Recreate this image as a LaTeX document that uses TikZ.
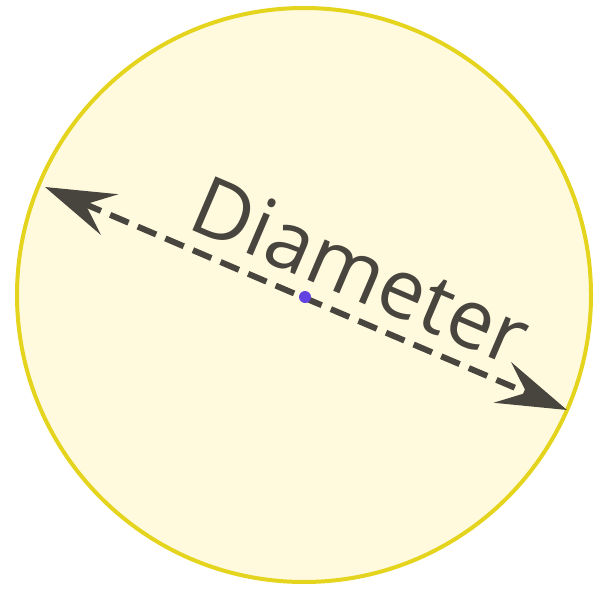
\documentclass[tikz,border=0pt]{standalone}
\usepackage{fontspec}
\setmainfont{Open Sans}
\usetikzlibrary{positioning,arrows.meta}
\definecolor{cream}{RGB}{255,250,222}
\definecolor{rim}{RGB}{228,212,30}
\definecolor{ink}{RGB}{72,68,62}
\definecolor{dotblue}{RGB}{98,66,224}
\begin{document}
\begin{tikzpicture}[x=1pt, y=-1pt,
  disk/.style={circle, draw=rim, line width=4pt, fill=cream, minimum size=574pt, inner sep=0pt},
  diam/.style={ink, line width=6pt, dash pattern=on 20pt off 10pt,
    {Stealth[length=70pt, width=44pt, inset=26pt]}-{Stealth[length=70pt, width=44pt, inset=26pt]}},
  lbl/.style={text=ink, font=\fontsize{82}{82}\selectfont},
  ctr/.style={circle, fill=dotblue, minimum size=12pt, inner sep=0pt}]
\useasboundingbox (0,0) rectangle (596,591);
\node[disk] (circ) at (304,295) {};
\coordinate (lt) at (45,187);
\coordinate (rt) at (567,410);
\draw[diam] (lt) -- (rt);
\path (lt) -- (rt) node[lbl, pos=0.57, sloped, above, inner sep=17pt] (word) {Diameter};
\node[ctr] (mid) at (305,297) {};
\end{tikzpicture}
\end{document}
